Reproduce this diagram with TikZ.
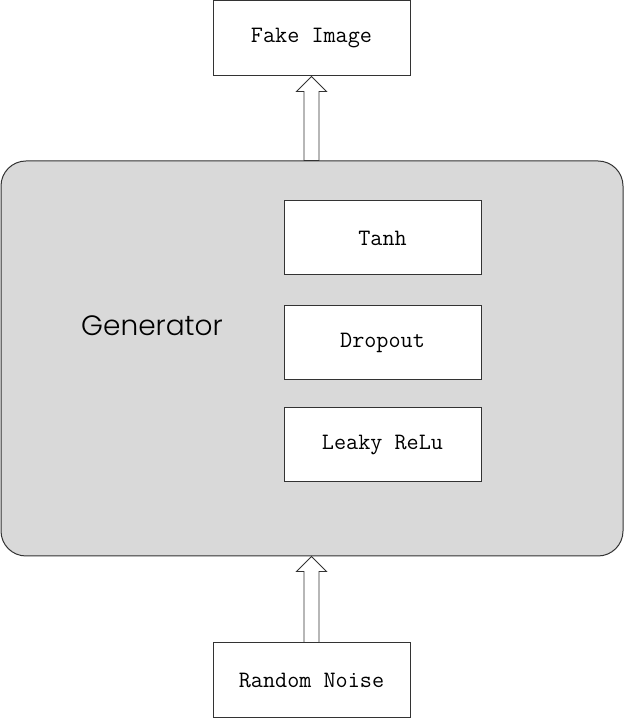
\documentclass[tikz,border=0pt]{standalone}
\usepackage{fontspec}
\newfontfamily\genfont{Poppins Light}
\usetikzlibrary{calc}
\definecolor{genfill}{HTML}{D9D9D9}
\definecolor{edge}{HTML}{333333}
\newcommand{\fatarrow}[2]{%
  \draw[fatarr] let \p1=(#1), \p2=(#2) in
  (\x1-7.5pt,\y1) -- (\x1-7.5pt,\y2-15pt) -- (\x1-15pt,\y2-15pt) -- (\x2,\y2)
  -- (\x1+15pt,\y2-15pt) -- (\x1+7.5pt,\y2-15pt) -- (\x1+7.5pt,\y1) -- cycle;}
\begin{document}
\begin{tikzpicture}[x=1pt,y=1pt,line join=miter,
  box/.style={draw=edge,line width=1pt,fill=white,minimum width=197pt,minimum height=75pt,
    inner sep=0pt,font=\fontsize{23.5}{27}\selectfont\ttfamily},
  fatarr/.style={draw=edge,line width=0.9pt,fill=white}]
\useasboundingbox (0,0) rectangle (624,719);
% generator block
\node[draw=edge,line width=1pt,fill=genfill,rounded corners=25pt,minimum width=622pt,
  minimum height=395pt,inner sep=0pt] (gen) at (312,360.5) {};
\node[font=\fontsize{28}{33}\selectfont\genfont] (genlabel) at (152,393) {Generator};
% layers inside
\foreach \n/\y/\t in {tanh/481/Tanh,dropout/376/Dropout,relu/274/Leaky ReLu}
  \node[box,minimum height=74pt] (\n) at (382.5,\y) {\t};
% input and output
\node[box] (fake) at (311.5,680.5) {Fake Image};
\node[box] (noise) at (311.5,38.5) {Random Noise};
\coordinate (gtop) at (fake.south |- gen.north);
\coordinate (gbot) at (noise.north |- gen.south);
\fatarrow{gtop}{fake.south}
\fatarrow{noise.north}{gbot}
\end{tikzpicture}
\end{document}
